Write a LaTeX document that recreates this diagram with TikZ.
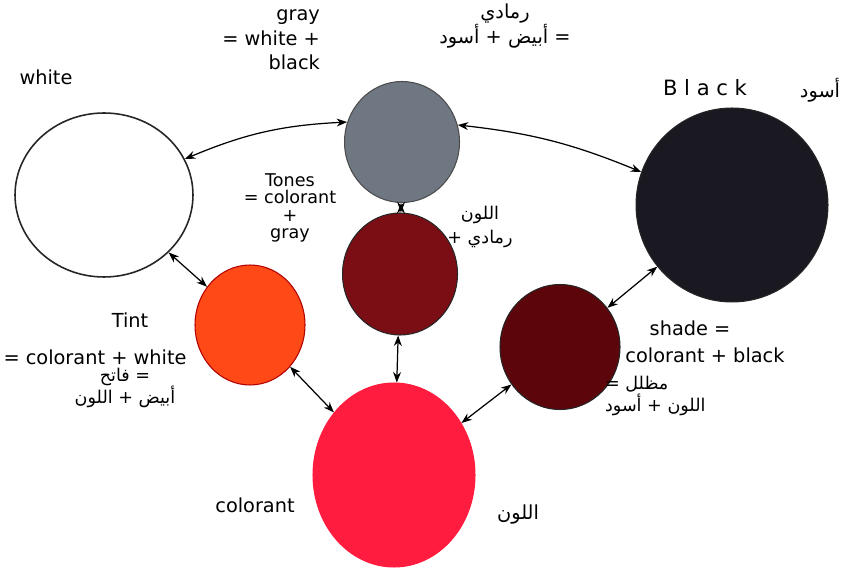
\documentclass[tikz,border=0pt]{standalone}
\usepackage{fontspec}
\setmainfont{DejaVu Sans}
\newfontfamily\arabicfont[Script=Arabic]{DejaVu Sans}
\TeXXeTstate=1
\usepackage{tikz}
\usetikzlibrary{shapes.geometric,arrows.meta}
\newcommand{\arb}[1]{\hbox{\arabicfont\beginR #1\endR}}
\definecolor{graytone}{RGB}{110,119,130}
\definecolor{blacktone}{RGB}{26,25,33}
\definecolor{tonestone}{RGB}{122,14,20}
\definecolor{tinttone}{RGB}{255,74,24}
\definecolor{shadetone}{RGB}{92,5,10}
\definecolor{colortone}{RGB}{255,28,62}

\begin{document}
\begin{tikzpicture}[x=0.02cm,y=-0.02cm,
    disc/.style={ellipse,draw=black!85,line width=0.6pt,inner sep=0pt},
    link/.style={{Stealth[length=6pt,width=4.5pt]}-{Stealth[length=6pt,width=4.5pt]},line width=0.7pt},
    hand/.style={font=\fontsize{11}{13}\selectfont,align=center,inner sep=1pt}]

      \useasboundingbox (0,0) rectangle (858,570);

      % the seven colour discs
      \node [disc,fill=white,line width=0.9pt,minimum width=3.56cm,minimum height=3.28cm] (white) at (104,195) {};
      \node [disc,fill=graytone,draw=black!70,minimum width=2.30cm,minimum height=2.42cm] (gray) at (402,142) {};
      \node [disc,fill=blacktone,minimum width=3.84cm,minimum height=3.88cm] (black) at (732,205) {};
      \node [disc,fill=tonestone,minimum width=2.30cm,minimum height=2.44cm] (tones) at (400,274) {};
      \node [disc,fill=tinttone,draw=red!70!black,minimum width=2.20cm,minimum height=2.40cm] (tint) at (250,325) {};
      \node [disc,fill=shadetone,minimum width=2.40cm,minimum height=2.50cm] (shade) at (560,347) {};
      \node [disc,fill=colortone,draw=colortone,minimum width=3.24cm,minimum height=3.68cm] (colorant) at (394,475) {};

      % arrows between the discs
      \draw [link] (white.24) to[bend left=10] (gray.160);
      \draw [link] (gray.17) to[bend left=8] (black.160);
      \draw [link] (gray) -- (tones);
      \draw [link] (white) -- (tint);
      \draw [link] (tint) -- (colorant);
      \draw [link] (tones) -- (colorant);
      \draw [link] (colorant) -- (shade);
      \draw [link] (shade) -- (black);

      % labels
      \node [hand,align=right,anchor=east,font=\fontsize{11}{14}\selectfont] (graytext) at (322,40) {gray\\= white +\\black};
      \node [hand,font=\fontsize{11}{14}\selectfont] (grayar) at (505,26) {\arb{رمادي}\\\arb{= أبيض + أسود}};
      \node [hand] (whitetext) at (46,77) {white};
      \node [hand,font=\fontsize{12}{14}\selectfont] (blacktext) at (705,88) {B l a c k};
      \node [hand] (blackar) at (820,90) {\arb{أسود}};
      \node [hand,font=\fontsize{10}{10}\selectfont] (tonestext) at (290,208) {Tones\\= colorant\\+\\gray};
      \node [hand,font=\fontsize{10}{14}\selectfont] (tonesar) at (480,227) {\arb{اللون}\\\hbox{+ }\arb{رمادي}};
      \node [hand] (tinttext) at (130,320) {Tint};
      \node [hand] (tintrule) at (95,357) {= colorant + white};
      \node [hand,font=\fontsize{10}{13}\selectfont] (tintar) at (125,388) {\arb{= فاتح}\\\arb{أبيض + اللون}};
      \node [hand] (shadetext) at (690,328) {shade =};
      \node [hand] (shaderule) at (705,355) {colorant + black};
      \node [hand,font=\fontsize{10}{13}\selectfont,align=left,anchor=west] (shadear) at (603,396) {\hbox{= }\arb{مظلل}\\\arb{اللون + أسود}};
      \node [hand] (colorantext) at (255,505) {colorant};
      \node [hand] (colorantar) at (518,515) {\arb{اللون}};

\end{tikzpicture}
\end{document}
